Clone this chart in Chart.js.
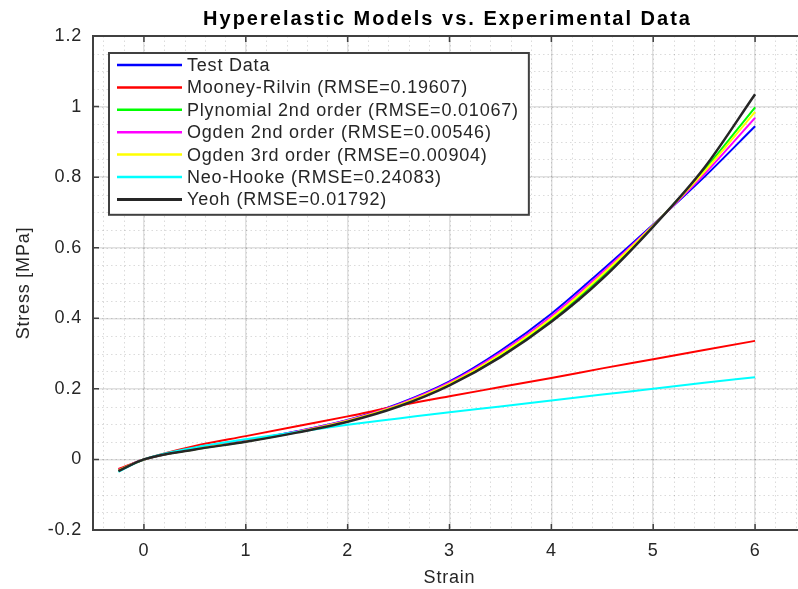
<!DOCTYPE html>
<html>
<head>
<meta charset="utf-8">
<script src="https://cdn.jsdelivr.net/npm/chart.js@4.4.1/dist/chart.umd.min.js"></script>
<style>
  html, body { margin: 0; padding: 0; background: #fff; overflow: hidden; }
  #wrap { position: relative; width: 820px; height: 589px; }
</style>
</head>
<body>
<div id="wrap"><canvas id="myChart" width="820" height="589"></canvas></div>
<script>
// strain values the curves were read at
const strain = [-0.25, 0, 0.5, 1, 1.5, 2, 2.5, 3, 3.5, 4, 4.5, 5, 5.5, 6]

// stress [MPa] for each series
const testData = [-0.03, 0, 0.03, 0.053, 0.08, 0.112, 0.158, 0.221, 0.308, 0.413, 0.537, 0.666, 0.8, 0.944]
const mooneyRivlin = [-0.027, 0, 0.038, 0.066, 0.094, 0.122, 0.152, 0.179, 0.205, 0.231, 0.258, 0.284, 0.31, 0.336]
const polynomial2 = [-0.032, 0, 0.029, 0.051, 0.077, 0.109, 0.153, 0.213, 0.295, 0.396, 0.52, 0.662, 0.82, 0.998]
const ogden2 = [-0.03, 0, 0.03, 0.052, 0.079, 0.111, 0.156, 0.218, 0.303, 0.406, 0.53, 0.664, 0.808, 0.968]
const ogden3 = [-0.031, 0, 0.029, 0.051, 0.078, 0.11, 0.154, 0.215, 0.298, 0.4, 0.524, 0.663, 0.815, 0.985]
const neoHooke = [-0.035, 0, 0.034, 0.057, 0.078, 0.098, 0.116, 0.134, 0.15, 0.167, 0.184, 0.2, 0.217, 0.233]
const yeoh = [-0.033, 0, 0.028, 0.05, 0.076, 0.107, 0.15, 0.21, 0.29, 0.39, 0.512, 0.66, 0.826, 1.035]

const seriesNames = [
  'Test Data',
  'Mooney-Rilvin (RMSE=0.19607)',
  'Plynomial 2nd order (RMSE=0.01067)',
  'Ogden 2nd order (RMSE=0.00546)',
  'Ogden 3rd order (RMSE=0.00904)',
  'Neo-Hooke (RMSE=0.24083)',
  'Yeoh (RMSE=0.01792)',
]
const seriesValues = [testData, mooneyRivlin, polynomial2, ogden2, ogden3, neoHooke, yeoh]
const seriesColors = ['#0000ff', '#ff0000', '#00ff00', '#ff00ff', '#ffff00', '#00ffff', '#262626']

const xTickValues = [0, 1, 2, 3, 4, 5, 6]
const yTickValues = [-0.2, 0, 0.2, 0.4, 0.6, 0.8, 1, 1.2]

const FONT = "'Liberation Sans', Arial, sans-serif"
const TEXT = '#262626'
const FRAME = '#404040'

Chart.defaults.font.family = FONT

const datasets = seriesValues.map((vals, i) => ({
  label: seriesNames[i],
  data: vals.map((v, j) => ({ x: strain[j], y: v })),
  borderColor: seriesColors[i],
  backgroundColor: seriesColors[i],
  borderWidth: i === 6 ? 2.5 : 2,
  pointRadius: 0,
  cubicInterpolationMode: 'monotone',
  order: seriesValues.length - i, // later series on top, like plot() does
}))

const fmt = v => String(Number(v.toFixed(2)))

// minor grid, box, inward ticks, in-axes legend and the title
const matlabAxes = {
  id: 'matlabAxes',
  beforeDraw(chart) {
    chart.ctx.letterSpacing = '0.8px'
  },
  beforeDatasetsDraw(chart) {
    const { ctx, chartArea: a, scales: { x, y } } = chart
    ctx.save()
    ctx.strokeStyle = 'rgba(0,0,0,0.14)'
    ctx.lineWidth = 1
    ctx.setLineDash([1.5, 3])
    ctx.beginPath()
    for (let v = -0.4; v < x.max; v += 0.2) {
      const px = Math.round(x.getPixelForValue(v)) + 0.5
      ctx.moveTo(px, a.top)
      ctx.lineTo(px, a.bottom)
    }
    for (let v = -0.15; v < y.max; v += 0.05) {
      const py = Math.round(y.getPixelForValue(v)) + 0.5
      ctx.moveTo(a.left, py)
      ctx.lineTo(a.right, py)
    }
    ctx.stroke()
    ctx.restore()
  },
  afterDatasetsDraw(chart) {
    const { ctx, chartArea: a, scales: { x, y } } = chart
    ctx.save()
    ctx.letterSpacing = '0px'

    // box
    ctx.strokeStyle = FRAME
    ctx.lineWidth = 2
    ctx.beginPath()
    ctx.moveTo(a.right, a.top)
    ctx.lineTo(a.left, a.top)
    ctx.lineTo(a.left, a.bottom)
    ctx.lineTo(a.right, a.bottom)
    ctx.stroke()

    // ticks pointing in
    ctx.lineWidth = 1.5
    ctx.beginPath()
    xTickValues.forEach(v => {
      const px = x.getPixelForValue(v)
      ctx.moveTo(px, a.bottom)
      ctx.lineTo(px, a.bottom - 6)
      ctx.moveTo(px, a.top)
      ctx.lineTo(px, a.top + 6)
    })
    yTickValues.forEach(v => {
      const py = y.getPixelForValue(v)
      ctx.moveTo(a.left, py)
      ctx.lineTo(a.left + 6, py)
    })
    ctx.stroke()

    // legend
    ctx.letterSpacing = '0.8px'
    ctx.font = '18px ' + FONT
    const bx = a.left + 16
    const by = a.top + 17
    const rowH = 22.4
    const textX = bx + 78
    let maxW = 0
    seriesNames.forEach(n => { maxW = Math.max(maxW, ctx.measureText(n).width) })
    const bw = textX - bx + maxW + 10
    const bh = rowH * seriesNames.length + 5
    ctx.fillStyle = '#fff'
    ctx.fillRect(bx, by, bw, bh)
    ctx.strokeStyle = FRAME
    ctx.lineWidth = 2
    ctx.strokeRect(bx, by, bw, bh)
    chart.data.datasets.forEach((ds, i) => {
      const ry = by + 12 + i * rowH
      ctx.strokeStyle = ds.borderColor
      ctx.lineWidth = i === 6 ? 3 : 2.5
      ctx.beginPath()
      ctx.moveTo(bx + 8, ry)
      ctx.lineTo(bx + 73, ry)
      ctx.stroke()
      ctx.fillStyle = TEXT
      ctx.textAlign = 'left'
      ctx.textBaseline = 'middle'
      ctx.fillText(ds.label, textX, ry + 1)
    })

    // title over the axes
    ctx.letterSpacing = '2px'
    ctx.font = 'bold 20px ' + FONT
    ctx.fillStyle = '#000'
    ctx.textAlign = 'center'
    ctx.textBaseline = 'middle'
    ctx.fillText('Hyperelastic Models vs. Experimental Data', (a.left + a.right) / 2 - 2, 19)
    ctx.restore()
  },
}

const ctx = document.getElementById('myChart').getContext('2d')
new Chart(ctx, {
  type: 'line',
  data: { datasets: datasets },
  options: {
    responsive: false,
    animation: false,
    devicePixelRatio: 1,
    layout: { padding: { top: 36, right: 14, left: 0, bottom: 0 } },
    plugins: {
      legend: { display: false },
      title: { display: false },
      tooltip: { enabled: false },
    },
    scales: {
      x: {
        type: 'linear',
        min: -0.5,
        max: 6.5,
        afterBuildTicks: s => { s.ticks = xTickValues.map(v => ({ value: v })) },
        afterFit: s => { s.height = 59 },
        grid: { color: 'rgba(0,0,0,0.12)', lineWidth: 1.5, drawTicks: false },
        border: { display: false },
        ticks: { padding: 10, color: TEXT, font: { size: 18 }, maxRotation: 0, autoSkip: false, callback: fmt },
        title: { display: true, text: 'Strain', color: TEXT, font: { size: 18 }, padding: { top: 0, bottom: 0 } },
      },
      y: {
        type: 'linear',
        min: -0.2,
        max: 1.2,
        afterBuildTicks: s => { s.ticks = yTickValues.map(v => ({ value: v })) },
        afterFit: s => { s.width = 93 },
        grid: { color: 'rgba(0,0,0,0.12)', lineWidth: 1.5, drawTicks: false },
        border: { display: false },
        ticks: { padding: 11, color: TEXT, font: { size: 18 }, autoSkip: false, callback: fmt },
        title: { display: true, text: 'Stress [MPa]', color: TEXT, font: { size: 18 }, padding: { top: 13, bottom: 0 } },
      },
    },
  },
  plugins: [matlabAxes],
})
</script>
</body>
</html>
